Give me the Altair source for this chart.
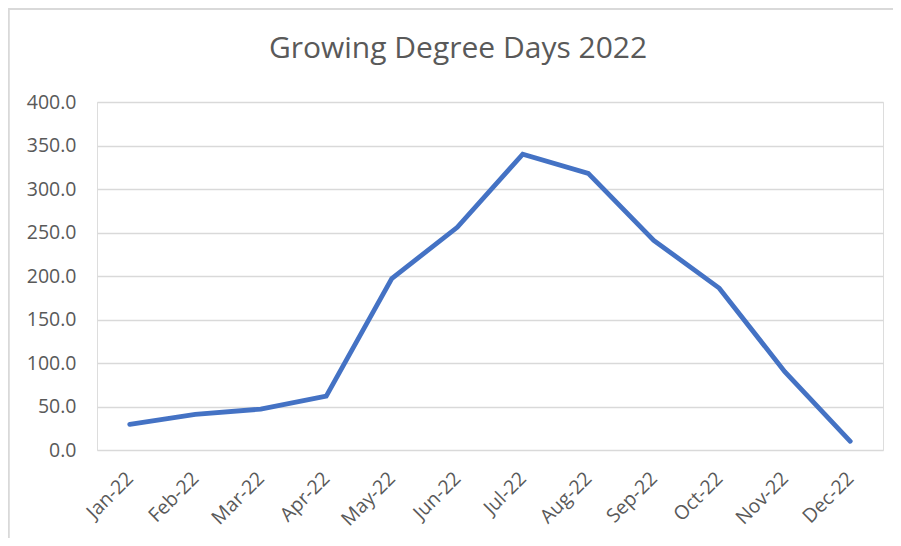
import altair as alt
import pandas as pd

months = ["Jan-22", "Feb-22", "Mar-22", "Apr-22", "May-22", "Jun-22",
          "Jul-22", "Aug-22", "Sep-22", "Oct-22", "Nov-22", "Dec-22"]
gdd = [29.5, 41, 47, 62, 197, 256, 340, 318, 241, 186, 90, 10]
y_ticks = [0, 50, 100, 150, 200, 250, 300, 350, 400]

df = pd.DataFrame({"month": months, "gdd": gdd})

W, H = 786, 348
FONT = "Open Sans"
GREY = "#595959"

line = alt.Chart(df).mark_line(
    color="#4472C4", strokeWidth=4.8, strokeCap="round", strokeJoin="miter"
).encode(
    x=alt.X("month:N", sort=months, title=None,
            scale=alt.Scale(type="point", padding=0.5),
            axis=alt.Axis(labelAngle=-45, labelAlign="right", labelBaseline="middle",
                          labelPadding=25, ticks=False, domain=False, grid=False,
                          labelFont=FONT, labelFontSize=19.5, labelColor=GREY)),
    y=alt.Y("gdd:Q", title=None,
            scale=alt.Scale(domain=[0, 400], nice=False, zero=True),
            axis=alt.Axis(values=y_ticks, format=".1f", ticks=False, domain=False,
                          grid=True, gridColor="#D9D9D9", gridWidth=1.3,
                          labelPadding=21, labelFont=FONT, labelFontSize=19.5,
                          labelColor=GREY)),
)

border_top = alt.Chart(df).mark_rule(color="#D9D9D9", strokeWidth=1.3).encode(
    x=alt.value(-88.5), x2=alt.value(W + 12), y=alt.value(-93)
)
border_left = alt.Chart(df).mark_rule(color="#D9D9D9", strokeWidth=1.3).encode(
    x=alt.value(-88.5), y=alt.value(-93), y2=alt.value(H + 100)
)

chart = alt.layer(border_top, border_left, line).properties(
    width=W, height=H,
    title=alt.TitleParams("Growing Degree Days 2022", font=FONT, fontSize=30,
                          fontWeight="normal", color=GREY, anchor="middle",
                          baseline="alphabetic", dx=-32, offset=-80),
    padding={"left": 89, "top": 94, "right": 10, "bottom": 88},
    autosize=alt.AutoSizeParams(type="none"),
).configure_view(stroke="transparent", strokeWidth=0).configure(background="white")

chart.save("out.html", embed_options={"renderer": "svg", "actions": False})
